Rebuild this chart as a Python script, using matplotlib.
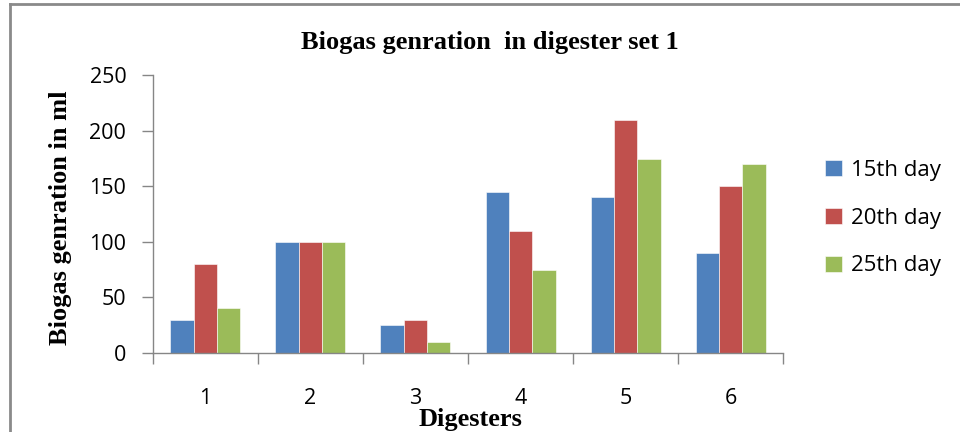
import numpy as np
import matplotlib.pyplot as plt
from matplotlib.lines import Line2D

digesters = ['1', '2', '3', '4', '5', '6']
day15 = [30, 100, 25, 145, 140, 90]
day20 = [80, 100, 30, 110, 210, 150]
day25 = [40, 100, 10, 75, 175, 170]
series_names = ['15th day', '20th day', '25th day']
colors = ['#4F81BD', '#C0504D', '#9BBB59']

serif = 'Liberation Serif'
sans = 'Open Sans'
axis_grey = '#868686'
tick_size = 15.5

fig = plt.figure(figsize=(9.6, 4.32), dpi=100)
ax = fig.add_axes([0.159, 0.183, 0.657, 0.643])

x = np.arange(1, len(digesters) + 1)
w = 1 / 4.5
for i, (vals, name, c) in enumerate(zip([day15, day20, day25], series_names, colors)):
    ax.bar(x + (i - 1) * w, vals, width=w, color=c, label=name,
           edgecolor='white', linewidth=0.4)

ax.set_xlim(0.5, len(digesters) + 0.5)
ax.set_ylim(0, 250)
ax.set_yticks(range(0, 251, 50))

# category labels sit between boundary ticks
ax.set_xticks(np.arange(0.5, len(digesters) + 1, 1))
ax.set_xticklabels([])
ax.set_xticks(x, minor=True)
ax.set_xticklabels(digesters, minor=True, fontfamily=sans, fontsize=tick_size)
ax.tick_params(axis='x', which='minor', length=0, pad=25)
ax.tick_params(axis='x', which='major', length=8, color=axis_grey, width=1)
ax.tick_params(axis='y', length=8, color=axis_grey, width=1, pad=11)
for lab in ax.get_yticklabels():
    lab.set_fontfamily(sans)
    lab.set_fontsize(tick_size)

for s in ['top', 'right']:
    ax.spines[s].set_visible(False)
for s in ['left', 'bottom']:
    ax.spines[s].set_color(axis_grey)
    ax.spines[s].set_linewidth(1)

fig.text(0.51, 0.902, 'Biogas genration  in digester set 1', ha='center', va='center',
         fontfamily=serif, fontweight='bold', fontsize=19)
fig.text(0.063, 0.497, 'Biogas genration in ml', ha='center', va='center', rotation=90,
         fontfamily=serif, fontweight='bold', fontsize=19)
fig.text(0.49, 0.028, 'Digesters', ha='center', va='center',
         fontfamily=serif, fontweight='bold', fontsize=19)

leg = ax.legend(loc='center left', bbox_to_anchor=(1.035, 0.485), frameon=False,
                prop={'family': sans, 'size': 16}, handlelength=0.75, handleheight=0.75,
                handletextpad=0.4, labelspacing=1.2)

# outer chart frame (only left and top edges fall inside the image)
fig.add_artist(Line2D([0.0099, 0.0099], [0.0, 0.991], transform=fig.transFigure,
                      color='#8a8a8a', linewidth=2))
fig.add_artist(Line2D([0.0099, 1.0], [0.991, 0.991], transform=fig.transFigure,
                      color='#8a8a8a', linewidth=2))

fig.savefig('out.png', dpi=100)
